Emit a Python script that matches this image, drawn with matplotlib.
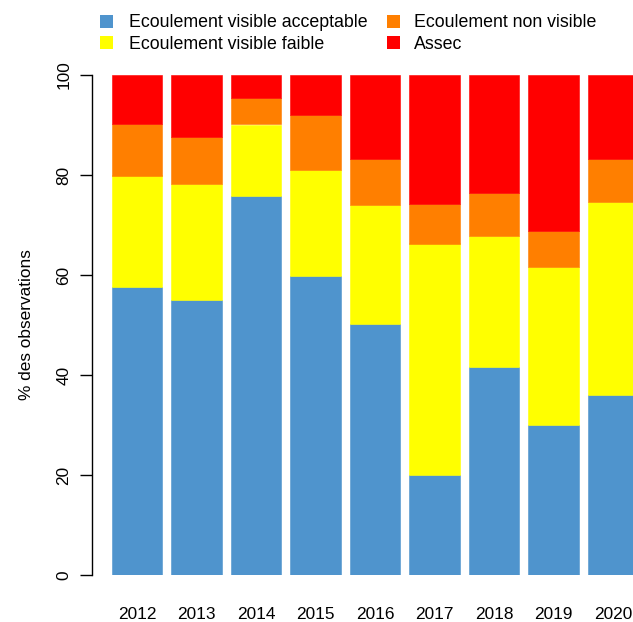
import matplotlib
matplotlib.use("Agg")
import matplotlib.pyplot as plt
from matplotlib.patches import Rectangle
import numpy as np

years = ["2012", "2013", "2014", "2015", "2016", "2017", "2018", "2019", "2020"]
# segment values (percent of observations)
acceptable = [57.6, 55.0, 75.9, 59.9, 50.3, 20.0, 41.7, 30.1, 36.1]
faible = [22.3, 23.2, 14.2, 21.2, 23.8, 46.3, 26.1, 31.6, 38.6]
non_visible = [10.2, 9.5, 5.2, 11.0, 9.2, 8.0, 8.6, 7.2, 8.6]
assec = [9.9, 12.3, 4.7, 7.9, 16.7, 25.7, 23.6, 31.1, 16.7]

labels = ["Ecoulement visible acceptable", "Ecoulement visible faible",
          "Ecoulement non visible", "Assec"]
colors = ["#4F94CD", "#FFFF00", "#FF7F00", "#FF0000"]

plt.rcParams['font.family'] = ['Liberation Sans', 'DejaVu Sans']
FS = 12.4
LFS = 12.8

W, H = 633, 622
fig = plt.figure(figsize=(W / 100, H / 100), dpi=100)
left_px, right_px = 92.0, 633
bot_px, top_px = 575, 75
ax = fig.add_axes([left_px / W, 1 - bot_px / H, (right_px - left_px) / W, (bot_px - top_px) / H])

x = np.arange(len(years))
series = [acceptable, faible, non_visible, assec]
bottom = np.zeros(len(years))
for vals, col, lab in zip(series, colors, labels):
    vals = np.array(vals)
    ax.bar(x, vals, bottom=bottom, width=0.85, color=col, edgecolor=col,
           linewidth=0.4, label=lab)
    bottom += vals

spacing = 59.5
c0 = 137.2
ax.set_xlim(-(c0 - left_px) / spacing, (right_px - c0) / spacing)
ax.set_ylim(0, 100)

for s in ["top", "right", "bottom"]:
    ax.spines[s].set_visible(False)
ax.spines["left"].set_bounds(0, 100)
ax.spines["left"].set_linewidth(1.0)
ax.set_yticks([0, 20, 40, 60, 80, 100])
ax.set_yticklabels(["0", "20", "40", "60", "80", "100"], rotation=90, va="center", fontsize=FS)
ax.tick_params(axis="y", length=8.6, width=1.0, pad=6.3)
ax.set_xticks(x)
ax.set_xticklabels(years, fontsize=FS)
ax.tick_params(axis="x", length=0, pad=22.8)
ax.set_ylabel("% des observations", fontsize=FS, labelpad=16)

# legend (two columns, R style)
sq = 13
col_sq = [100, 386.5]
col_tx = [129, 414.3]
row_base = [27.3, 49.0]
row_ctr = [21, 42.5]
for i, (lab, col) in enumerate(zip(labels, colors)):
    c, r = i // 2, i % 2
    fig.patches.append(Rectangle((col_sq[c], H - row_ctr[r] - sq / 2), sq, sq,
                                 transform=None, facecolor=col, edgecolor='none'))
    fig.text(col_tx[c] / W, 1 - row_base[r] / H, lab, fontsize=LFS,
             ha="left", va="baseline")

fig.savefig("out.png", dpi=100)
